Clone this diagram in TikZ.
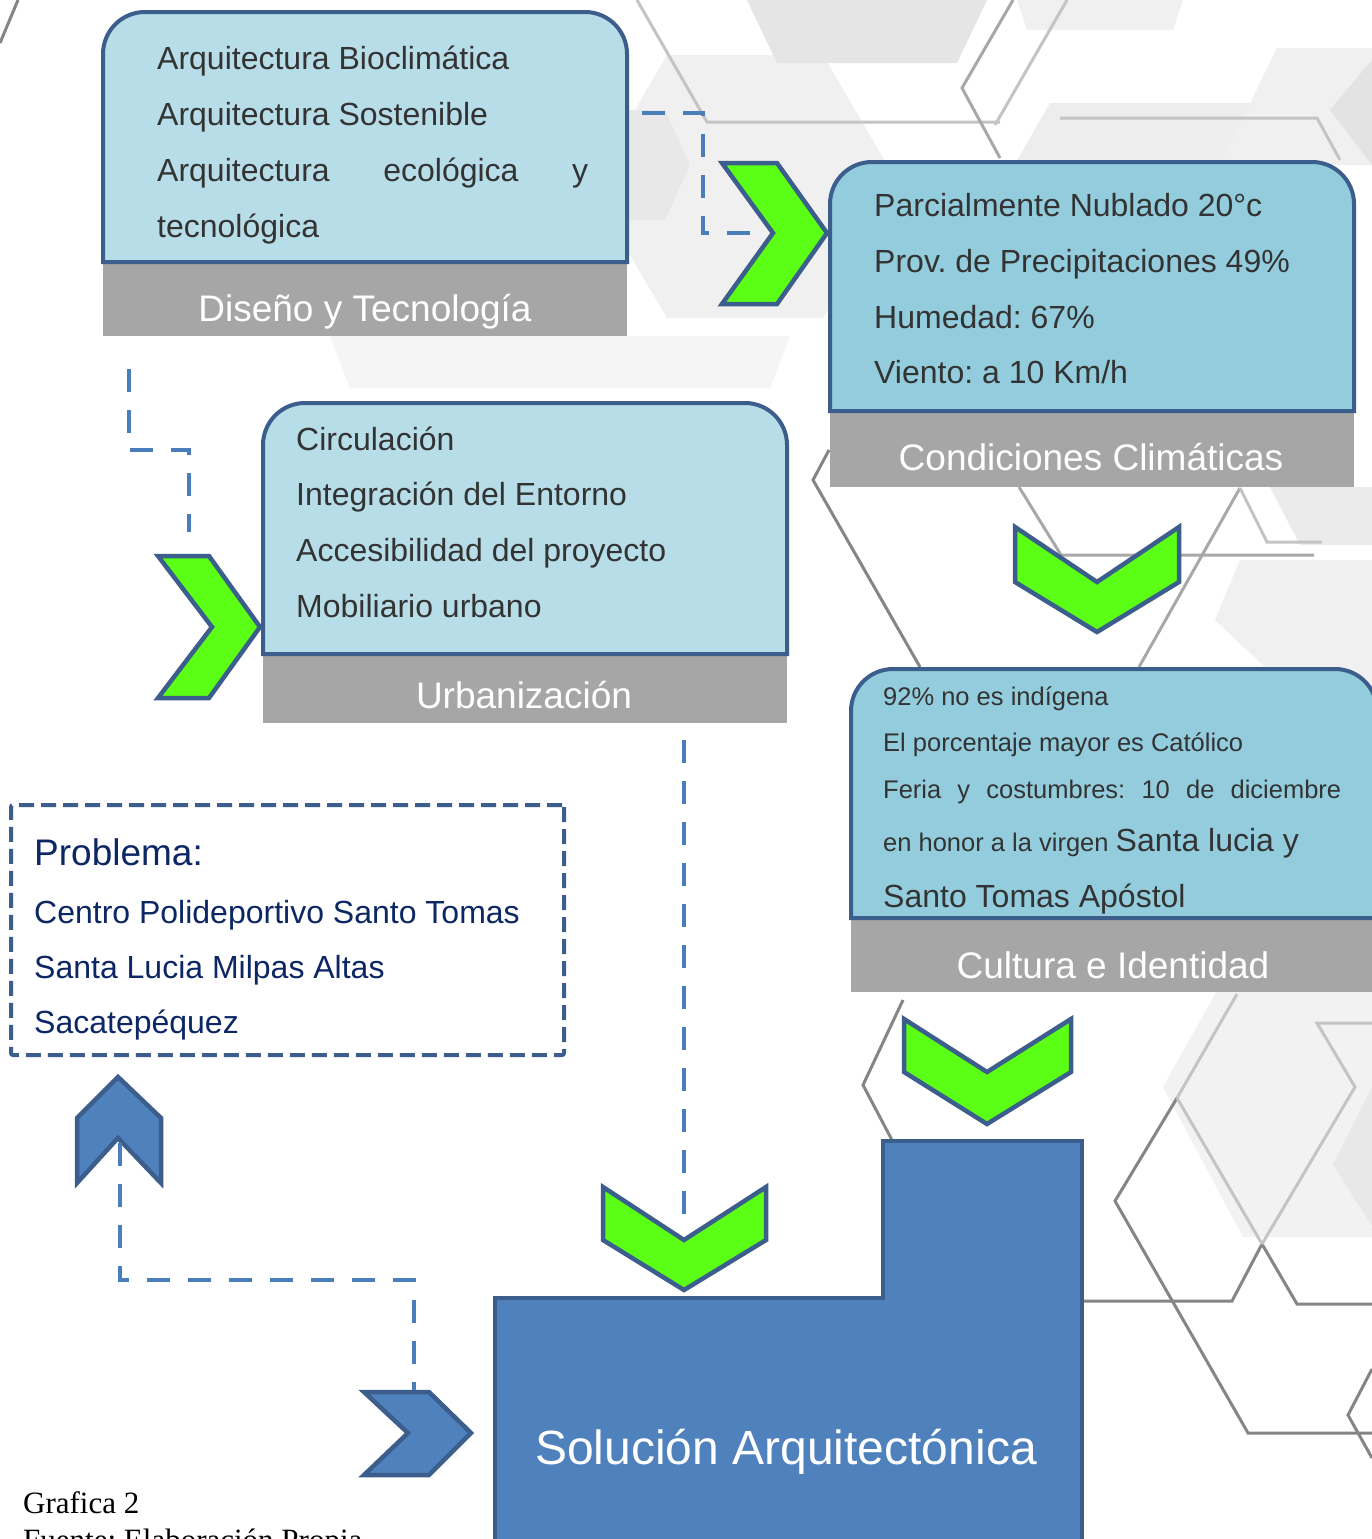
\documentclass[tikz,border=0pt]{standalone}
\usepackage{fontspec}
\setmainfont{Liberation Sans}
\newfontfamily\timesfont{Liberation Serif}
\frenchspacing
\definecolor{boxLight}{HTML}{B7DDE8}
\definecolor{boxMid}{HTML}{93CDDD}
\definecolor{bord}{HTML}{3B5E8C}
\definecolor{barGray}{HTML}{A6A6A6}
\definecolor{chGreen}{HTML}{5BFF15}
\definecolor{txtDark}{HTML}{333333}
\definecolor{navy}{HTML}{0C2764}
\definecolor{solFill}{HTML}{4F81BD}
\definecolor{dashBlue}{HTML}{4A7EBB}
\definecolor{hexDark}{HTML}{858585}
\definecolor{hexMid}{HTML}{A8A8A8}
\definecolor{hexLight}{HTML}{C4C4C4}
\newcommand\RoundTop[2]{%
  \path[#2] (#1.south west) -- ([yshift=-42pt]#1.north west)
    .. controls ([yshift=-18.8pt]#1.north west) and ([xshift=18.8pt]#1.north west) .. ([xshift=42pt]#1.north west)
    -- ([xshift=-42pt]#1.north east)
    .. controls ([xshift=-18.8pt]#1.north east) and ([yshift=-18.8pt]#1.north east) .. ([yshift=-42pt]#1.north east)
    -- (#1.south east) -- cycle;}
\tikzset{
  area/.style={inner sep=0pt, outer sep=0pt, anchor=north west},
  boxline/.style={draw=bord, line width=4pt},
  barbox/.style={area, fill=barGray},
  btxt/.style={anchor=base west, inner sep=0pt, text=txtDark, font=\fontsize{32}{38}\selectfont},
  stxt/.style={anchor=base west, inner sep=0pt, text=txtDark, font=\fontsize{25.5}{30}\selectfont},
  ptxt/.style={anchor=base west, inner sep=0pt, text=navy, font=\fontsize{32}{38}\selectfont},
  ttl/.style={anchor=base, inner sep=0pt, text=white, font=\fontsize{37}{44}\selectfont},
  chevg/.style={fill=chGreen, draw=bord, line width=4.5pt},
  chevb/.style={fill=solFill, draw=bord, line width=4.5pt},
  dashln/.style={draw=dashBlue, line width=4pt, dash pattern=on 23pt off 18pt},
  hexd/.style={draw=hexDark, line width=3pt},
  hexm/.style={draw=hexMid, line width=3pt},
  hexl/.style={draw=hexLight, line width=3pt}
}
\begin{document}
\begin{tikzpicture}[x=1pt,y=-1pt]
\useasboundingbox (0,0) rectangle (1372,1539);
\clip (0,0) rectangle (1372,1539);
\fill[white] (0,0) rectangle (1372,1539);
% ---------- background hexagons ----------
\fill[black!4] (330,336) -- (790,336) -- (770,388) -- (350,388) -- cycle;
\fill[black!6] (667,55) -- (823,55) -- (900,187) -- (823,318) -- (667,318) -- (590,187) -- cycle;
\fill[black!9] (627,110) -- (665,110) -- (690,165) -- (665,220) -- (627,220) -- cycle;
\fill[black!10] (747,0) -- (987,0) -- (957,63) -- (777,63) -- cycle;
\fill[black!6] (1017,0) -- (1183,0) -- (1173,30) -- (1027,30) -- cycle;
\fill[black!7] (1050,103) -- (1250,103) -- (1300,190) -- (1250,280) -- (1050,280) -- (1000,190) -- cycle;
\fill[black!6] (1277,48) -- (1372,48) -- (1372,165) -- (1220,165) -- cycle;
\fill[black!11] (1330,110) -- (1372,60) -- (1372,165) -- cycle;
\fill[black!6] (1240,560) -- (1372,560) -- (1372,690) -- (1300,700) -- (1215,620) -- cycle;
\fill[black!8] (1270,487) -- (1372,487) -- (1372,545) -- (1300,545) -- cycle;
\fill[black!5] (1163,1087) -- (1223,980) -- (1372,980) -- (1372,1237) -- (1243,1237) -- cycle;
\fill[black!9] (1333,1165) -- (1372,1087) -- (1372,1226) -- cycle;
\draw[hexd] (18,0) -- (0,43);
\draw[hexl] (637,0) -- (707,122) -- (1000,122);
\draw[hexm] (1013,0) -- (962,88) -- (1000,158);
\draw[hexl] (1067,0) -- (995,125);
\draw[hexl] (1060,118) -- (1317,118) -- (1340,160);
\draw[hexd] (829,450) -- (813,480) -- (920,667);
\draw[hexm] (1019,487) -- (1061,555) -- (1314,555);
\draw[hexm] (1240,488) -- (1139,667);
\draw[hexl] (1240,488) -- (1267,542) -- (1322,542);
\draw[hexd] (903,1000) -- (863,1085) -- (893,1142);
\draw[hexl] (1237,994) -- (1177,1098);
\draw[hexd] (1177,1098) -- (1115,1201) -- (1248,1433) -- (1372,1433);
\draw[hexd] (1082,1301) -- (1232,1301) -- (1262,1244) -- (1297,1304) -- (1372,1304);
\draw[hexl] (1177,1098) -- (1262,1244);
\draw[hexl] (1262,1244) -- (1355,1087) -- (1317,1023) -- (1372,1023);
\draw[hexd] (1372,1369) -- (1348,1415) -- (1372,1458);
% ---------- box 1: Diseno y Tecnologia ----------
\node[barbox, minimum width=524pt, minimum height=74pt] (disbar) at (103,262) {};
\node[area, minimum width=524pt, minimum height=250pt] (dis) at (103,12) {};
\RoundTop{dis}{boxline, fill=boxLight}
\node[btxt] (d1) at (157,69) {Arquitectura Bioclimática};
\node[btxt] (d2) at (157,125) {Arquitectura Sostenible};
\node[btxt] (d3) at (157,181) {\makebox[431pt][s]{Arquitectura ecológica y}};
\node[btxt] (d4) at (157,237) {tecnológica};
\node[ttl] (dist) at (365,321) {Diseño y Tecnología};
% ---------- box 2: Condiciones Climaticas ----------
\node[barbox, minimum width=524pt, minimum height=76pt] (conbar) at (830,411) {};
\node[area, minimum width=524pt, minimum height=249pt] (con) at (830,162) {};
\RoundTop{con}{boxline, fill=boxMid}
\node[btxt] (c1) at (874,216) {Parcialmente Nublado 20°c};
\node[btxt] (c2) at (874,272) {Prov. de Precipitaciones 49\%};
\node[btxt] (c3) at (874,328) {Humedad: 67\%};
\node[btxt] (c4) at (874,383) {Viento: a 10 Km/h};
\node[ttl] (cont) at (1091,470) {Condiciones Climáticas};
% ---------- box 3: Urbanizacion ----------
\node[barbox, minimum width=524pt, minimum height=69pt] (urbbar) at (263,654) {};
\node[area, minimum width=524pt, minimum height=251pt] (urb) at (263,403) {};
\RoundTop{urb}{boxline, fill=boxLight}
\node[btxt] (u1) at (296,450) {Circulación};
\node[btxt] (u2) at (296,505) {Integración del Entorno};
\node[btxt] (u3) at (296,561) {Accesibilidad del proyecto};
\node[btxt] (u4) at (296,617) {Mobiliario urbano};
\node[ttl] (urbt) at (524,708) {Urbanización};
% ---------- box 4: Cultura e Identidad ----------
\node[barbox, minimum width=530pt, minimum height=74pt] (culbar) at (851,918) {};
\node[area, minimum width=526pt, minimum height=249pt] (cul) at (851,669) {};
\RoundTop{cul}{boxline, fill=boxMid}
\node[stxt] (k1) at (883,705) {92\% no es indígena};
\node[stxt] (k2) at (883,751) {El porcentaje mayor es Católico};
\node[stxt] (k3) at (883,798) {\makebox[458pt][s]{Feria y costumbres: 10 de diciembre}};
\node[stxt] (k4) at (883,851) {en honor a la virgen {\fontsize{32}{38}\selectfont Santa lucia y}};
\node[btxt] (k5) at (883,907) {Santo Tomas Apóstol};
\node[ttl] (cult) at (1113,978) {Cultura e Identidad};
% ---------- problem box ----------
\node[area, draw=bord, line width=4pt, dash pattern=on 15pt off 7pt, rounded corners=2pt,
      minimum width=553pt, minimum height=250pt] (prob) at (11,805) {};
\node[ptxt, font=\fontsize{37}{44}\selectfont] (p0) at (34,865) {Problema:};
\node[ptxt] (p1) at (34,923) {Centro Polideportivo Santo Tomas};
\node[ptxt] (p2) at (34,978) {Santa Lucia Milpas Altas};
\node[ptxt] (p3) at (34,1033) {Sacatepéquez};
% ---------- solution ----------
\draw[fill=solFill, draw=bord, line width=4pt] (495,1298) -- (883,1298) -- (883,1141) -- (1082,1141) -- (1082,1570) -- (495,1570) -- cycle;
\node[anchor=base, inner sep=0pt, text=white, font=\fontsize{48}{56}\selectfont] (sol) at (786,1464) {Solución Arquitectónica};
% ---------- chevrons ----------
\draw[chevg] (722,163) -- (777,163) -- (827,233) -- (777,304) -- (722,304) -- (773,233) -- cycle;
\draw[chevg] (158,556) -- (209,556) -- (260,627) -- (209,698) -- (158,698) -- (212,627) -- cycle;
\draw[chevg] (1015,527) -- (1097,582) -- (1179,527) -- (1179,582) -- (1097,632) -- (1015,582) -- cycle;
\draw[chevg] (904,1019) -- (987,1072) -- (1071,1019) -- (1071,1072) -- (987,1124) -- (904,1072) -- cycle;
\draw[chevg] (603,1187) -- (684,1240) -- (766,1187) -- (766,1240) -- (684,1290) -- (603,1240) -- cycle;
\draw[chevb] (118,1077) -- (161,1118) -- (161,1183) -- (118,1138) -- (77,1183) -- (77,1118) -- cycle;
\draw[chevb] (364,1392) -- (429,1392) -- (471,1433) -- (429,1475) -- (364,1475) -- (408,1433) -- cycle;
% ---------- dashed connectors ----------
\coordinate (a1) at (642,113); \coordinate (a2) at (703,113); \coordinate (a3) at (703,233); \coordinate (a4) at (755,233);
\draw[dashln] (a1) -- (a2) -- (a3) -- (a4);
\coordinate (b1) at (129,369); \coordinate (b2) at (129,450); \coordinate (b3) at (189,450); \coordinate (b4) at (189,532);
\draw[dashln] (b1) -- (b2) -- (b3) -- (b4);
\coordinate (e1) at (684,740); \coordinate (e2) at (684,1225);
\draw[dashln] (e1) -- (e2);
\coordinate (f1) at (120,1143); \coordinate (f2) at (120,1280); \coordinate (f3) at (414,1280); \coordinate (f4) at (414,1390);
\draw[dashln] (f1) -- (f2) -- (f3) -- (f4);
% ---------- caption ----------
\node[anchor=base west, inner sep=0pt, font=\timesfont\fontsize{31}{36}\selectfont] (cap1) at (23,1513) {Grafica 2};
\node[anchor=base west, inner sep=0pt, font=\timesfont\fontsize{31}{36}\selectfont] (cap2) at (23,1550) {Fuente: Elaboración Propia};
\end{tikzpicture}
\end{document}
